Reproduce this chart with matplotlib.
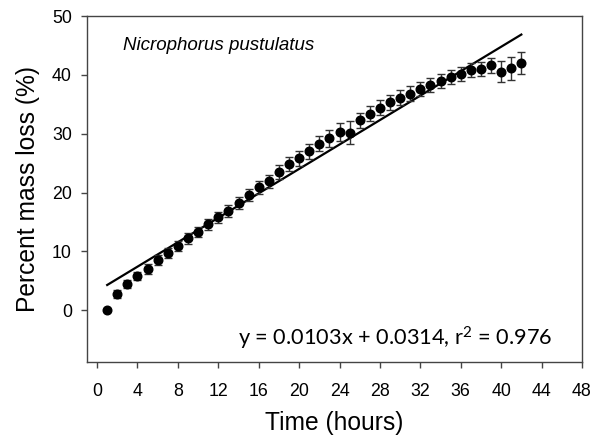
import numpy as np
import matplotlib
matplotlib.use('Agg')
import matplotlib.pyplot as plt

plt.rcParams['mathtext.fontset'] = 'custom'
plt.rcParams['mathtext.rm'] = 'Lato'
plt.rcParams['mathtext.it'] = 'Lato'

# hours since start
hours = np.arange(1, 43)

# mean percent mass loss at each hour
mass_loss = [0.0, 2.8, 4.4, 5.8, 7.0, 8.5, 9.7, 10.9, 12.2, 13.3,
             14.6, 15.8, 16.9, 18.2, 19.6, 20.9, 21.9, 23.5, 24.8, 25.8,
             27.0, 28.3, 29.2, 30.3, 30.2, 32.3, 33.4, 34.4, 35.3, 36.1,
             36.8, 37.6, 38.3, 38.9, 39.6, 40.1, 40.8, 41.0, 41.6, 40.5,
             41.1, 42.0]

# standard error of each mean
mass_err = [0.0, 0.7, 0.7, 0.7, 0.8, 0.8, 0.8, 0.8, 0.9, 0.9,
            0.9, 0.9, 1.0, 1.0, 1.0, 1.1, 1.1, 1.2, 1.2, 1.3,
            1.3, 1.3, 1.4, 1.5, 2.0, 1.3, 1.3, 1.3, 1.3, 1.3,
            1.3, 1.2, 1.2, 1.2, 1.2, 1.2, 1.2, 1.2, 1.3, 1.8,
            1.9, 1.9]

# regression line as drawn (percent per hour)
fit_slope = 1.038
fit_intercept = 3.25
fit_range = [1, 42]

x_ticks = list(range(0, 49, 4))
y_ticks = [0, 10, 20, 30, 40, 50]

fig = plt.figure(figsize=(6.1, 4.42), dpi=100)
ax = fig.add_axes([0.1426, 0.181, 0.8114, 0.7828])

fx = np.array(fit_range)
ax.plot(fx, fit_slope * fx + fit_intercept, color='black', lw=1.6, zorder=2)
ax.errorbar(hours, mass_loss, yerr=mass_err, fmt='o', color='black',
            ms=6.2, ecolor='#333333', elinewidth=1.0, capsize=3.2,
            capthick=1.0, zorder=3)

ax.set_xlim(-1, 48)
ax.set_ylim(-8.8, 50)
ax.set_xticks(x_ticks)
ax.set_yticks(y_ticks)

for s in ax.spines.values():
    s.set_color('#444444')
    s.set_linewidth(1.0)
ax.tick_params(direction='out', length=4.5, width=1.0, color='#444444',
               labelsize=12.8, top=False, right=False)
ax.tick_params(axis='x', pad=10.3)
ax.tick_params(axis='y', pad=6.3)
for lab in ax.get_xticklabels() + ax.get_yticklabels():
    lab.set_fontfamily('Liberation Sans')

ax.set_xlabel('Time (hours)', fontsize=17.7, family='Liberation Sans')
ax.set_ylabel('Percent mass loss (%)', fontsize=17.7, family='Liberation Sans')
ax.xaxis.set_label_coords(0.5, -0.142)
ax.yaxis.set_label_coords(-0.095, 0.5)

ax.text(0.073, 0.915, 'Nicrophorus pustulatus', transform=ax.transAxes,
        fontsize=13.5, style='italic', family='Liberation Sans', va='center')
ax.text(0.305, 0.049, 'y = 0.0103x + 0.0314, r$^{2}$ = 0.976',
        transform=ax.transAxes, fontsize=15.7, family='Lato', va='baseline')

fig.savefig('out.png', dpi=100)
